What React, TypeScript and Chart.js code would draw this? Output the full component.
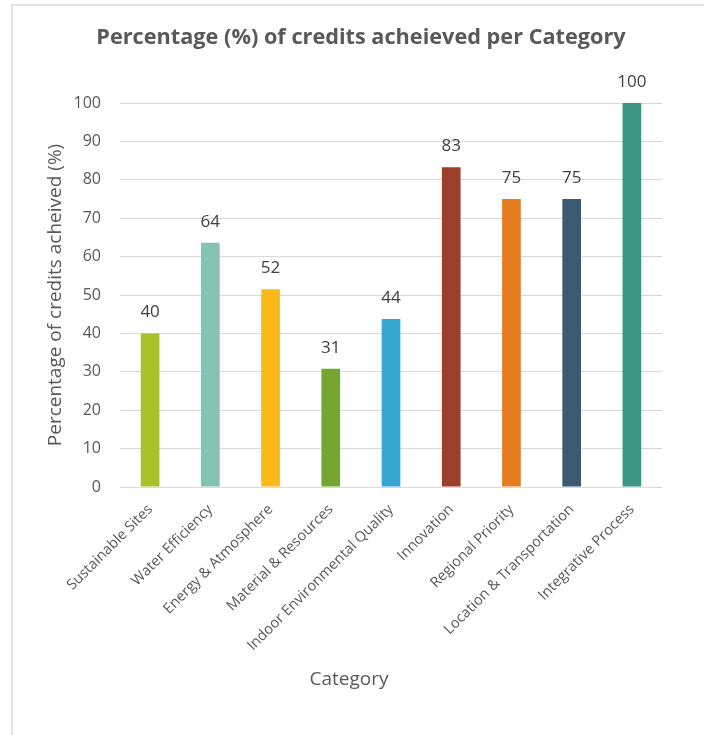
import React, { useEffect, useRef } from "react";
import { Chart, registerables } from "chart.js";

Chart.register(...registerables);

const categories = [
  "Sustainable Sites",
  "Water Efficiency",
  "Energy & Atmosphere",
  "Material & Resources",
  "Indoor Environmental Quality",
  "Innovation",
  "Regional Priority",
  "Location & Transportation",
  "Integrative Process",
];
const values = [40, 63.6, 51.5, 30.8, 43.75, 83.3, 75, 75, 100];
const barColors = [
  "#A9C12A",
  "#82C3B1",
  "#FBB917",
  "#75A632",
  "#35A7D0",
  "#9B3F2B",
  "#E27D22",
  "#3C5A72",
  "#3A9683",
];
const chartTitle = "Percentage (%) of credits acheieved per Category";
const yAxisTitle = "Percentage of credits acheived (%)";
const xAxisTitle = "Category";
const yMin = 0;
const yMax = 100;
const yStep = 10;

const FONT = "'Open Sans', sans-serif";

const extrasPlugin = {
  id: "extras",
  afterDatasetsDraw(chart: any) {
    const ctx = chart.ctx;
    const meta = chart.getDatasetMeta(0);
    ctx.save();
    ctx.fillStyle = "#404040";
    ctx.font = `17px ${FONT}`;
    ctx.textAlign = "center";
    ctx.textBaseline = "middle";
    meta.data.forEach((el: any, i: number) => {
      ctx.fillText(String(Math.round(values[i])), el.x, el.y - 21);
    });
    ctx.restore();
  },
  afterDraw(chart: any) {
    const ctx = chart.ctx;
    ctx.save();
    ctx.fillStyle = "#595959";
    ctx.textAlign = "center";
    ctx.textBaseline = "middle";
    ctx.font = `bold 21.7px ${FONT}`;
    ctx.fillText(chartTitle, 361, 38);
    ctx.font = `19px ${FONT}`;
    ctx.fillText(xAxisTitle, 349, 680);
    ctx.restore();
  },
};

export default function App() {
  const ref = useRef<HTMLCanvasElement | null>(null);
  useEffect(() => {
    if (!ref.current) return;
    const chart = new Chart(ref.current, {
      type: "bar",
      data: {
        labels: categories,
        datasets: [
          {
            data: values,
            backgroundColor: barColors,
            borderWidth: 0,
            barPercentage: 0.31,
            categoryPercentage: 1,
          },
        ],
      },
      plugins: [extrasPlugin],
      options: {
        responsive: false,
        animation: false,
        layout: { padding: { left: 30, right: 42, top: 103, bottom: 35 } },
        plugins: {
          legend: { display: false },
          title: { display: false },
          tooltip: { enabled: false },
        },
        scales: {
          x: {
            grid: { display: false, drawTicks: false },
            border: { display: false },
            ticks: {
              color: "#595959",
              font: { family: FONT, size: 14.5 },
              minRotation: 45,
              maxRotation: 45,
              autoSkip: false,
              padding: 14,
            },
            afterFit(scale: any) {
              scale.height = 213;
            },
          },
          y: {
            min: yMin,
            max: yMax,
            grid: { color: "#D9D9D9", lineWidth: 1, drawTicks: false },
            border: { display: false },
            ticks: {
              stepSize: yStep,
              color: "#595959",
              font: { family: FONT, size: 16 },
              padding: 19,
            },
            title: {
              display: true,
              text: yAxisTitle,
              color: "#595959",
              font: { family: FONT, size: 19 },
              padding: { top: 14, bottom: 0 },
            },
            afterFit(scale: any) {
              scale.width = 90;
            },
          },
        },
      },
    });
    return () => chart.destroy();
  }, []);

  return (
    <div
      style={{
        position: "fixed",
        left: 0,
        top: 0,
        width: 704,
        height: 735,
        overflow: "hidden",
        background: "#fff",
      }}
    >
      <div
        style={{
          position: "absolute",
          left: 11,
          top: 4,
          width: 760,
          height: 800,
          border: "2px solid #E3E3E3",
        }}
      />
      <canvas
        ref={ref}
        width={704}
        height={735}
        style={{ position: "absolute", left: 0, top: 0 }}
      />
    </div>
  );
}
